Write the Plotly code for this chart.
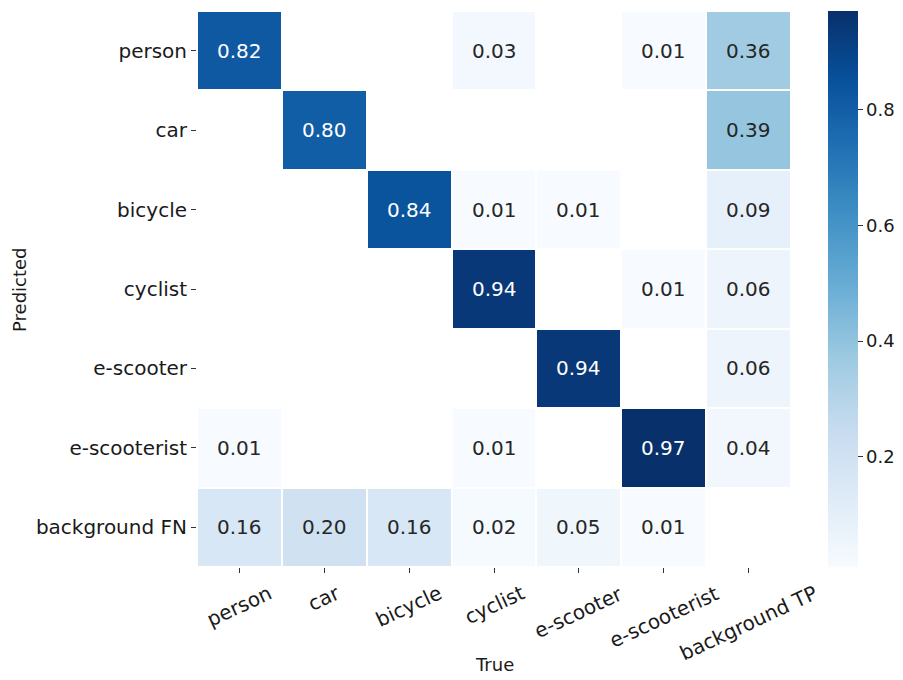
import numpy as np
import plotly.graph_objects as go

# Confusion matrix: rows = predicted class, columns = true class (NaN = empty cell)
true_labels = ["person", "car", "bicycle", "cyclist", "e-scooter", "e-scooterist", "background TP"]
pred_labels = ["person", "car", "bicycle", "cyclist", "e-scooter", "e-scooterist", "background FN"]
nan = np.nan
row_person = [0.82, nan, nan, 0.03, nan, 0.01, 0.36]
row_car = [nan, 0.80, nan, nan, nan, nan, 0.39]
row_bicycle = [nan, nan, 0.84, 0.01, 0.01, nan, 0.09]
row_cyclist = [nan, nan, nan, 0.94, nan, 0.01, 0.06]
row_escooter = [nan, nan, nan, nan, 0.94, nan, 0.06]
row_escooterist = [0.01, nan, nan, 0.01, nan, 0.97, 0.04]
row_background_fn = [0.16, 0.20, 0.16, 0.02, 0.05, 0.01, nan]
cbar_ticks = [0.2, 0.4, 0.6, 0.8]

matrix = np.array([row_person, row_car, row_bicycle, row_cyclist,
                   row_escooter, row_escooterist, row_background_fn])

blues = ["#f7fbff", "#deebf7", "#c6dbef", "#9ecae1", "#6baed6",
         "#4292c6", "#2171b5", "#08519c", "#08306b"]
colorscale = [[i / (len(blues) - 1), c] for i, c in enumerate(blues)]
zmin = float(np.nanmin(matrix))
zmax = float(np.nanmax(matrix))

FONT = "DejaVu Sans"

fig = go.Figure(go.Heatmap(
    z=matrix, x=true_labels, y=pred_labels,
    colorscale=colorscale, zmin=zmin, zmax=zmax,
    xgap=2, ygap=2, hoverongaps=False,
    colorbar=dict(
        thickness=30, len=1.0, lenmode="fraction", x=1.0623, xanchor="left",
        xpad=0, y=0.5, yanchor="middle", ypad=0, outlinewidth=0,
        tickvals=cbar_ticks, ticktext=[f"{t:.1f}" for t in cbar_ticks],
        ticks="outside", ticklen=5, tickwidth=1, tickcolor="#333333",
        tickfont=dict(family=FONT, size=18, color="#1a1a1a"),
    ),
))

annotations = []
# Cell value labels
for i, p in enumerate(pred_labels):
    for j, t in enumerate(true_labels):
        v = matrix[i, j]
        if np.isnan(v):
            continue
        frac = (v - zmin) / (zmax - zmin)
        color = "#ffffff" if frac > 0.55 else "#262626"
        annotations.append(dict(
            x=t, y=p, xref="x", yref="y", text=f"{v:.2f}", showarrow=False,
            font=dict(family=FONT, size=20, color=color),
        ))

# Rotated x tick labels centred under each column
for t in true_labels:
    annotations.append(dict(
        x=t, y=-0.02, xref="x", yref="paper", text=t, showarrow=False,
        textangle=-25, xanchor="center", yanchor="top",
        font=dict(family=FONT, size=20, color="#1a1a1a"),
    ))

# Axis titles
annotations.append(dict(
    x=0.5, y=-0.175, xref="paper", yref="paper", text="True", showarrow=False,
    xanchor="center", yanchor="middle",
    font=dict(family=FONT, size=18, color="#1a1a1a"),
))
annotations.append(dict(
    x=-0.2997, y=0.5, xref="paper", yref="paper", text="Predicted", showarrow=False,
    textangle=-90, xanchor="center", yanchor="middle",
    font=dict(family=FONT, size=18, color="#1a1a1a"),
))

n_cols = len(true_labels)
n_rows = len(pred_labels)

fig.update_layout(
    width=903, height=680,
    margin=dict(l=197, r=112, t=11, b=113, autoexpand=False),
    paper_bgcolor="white", plot_bgcolor="white",
    font=dict(family=FONT, color="#1a1a1a"),
    annotations=annotations,
    xaxis=dict(range=[-0.5, n_cols - 0.5], autorange=False,
               showticklabels=False, ticks="outside", ticklen=5, tickwidth=1,
               tickcolor="#333333", showgrid=False, zeroline=False, showline=False),
    yaxis=dict(range=[n_rows - 0.5, -0.5], autorange=False,
               ticks="outside", ticklen=5, tickwidth=1,
               tickcolor="#333333", showgrid=False, zeroline=False, showline=False,
               tickfont=dict(family=FONT, size=20, color="#1a1a1a")),
)

fig.write_html("out.html")
